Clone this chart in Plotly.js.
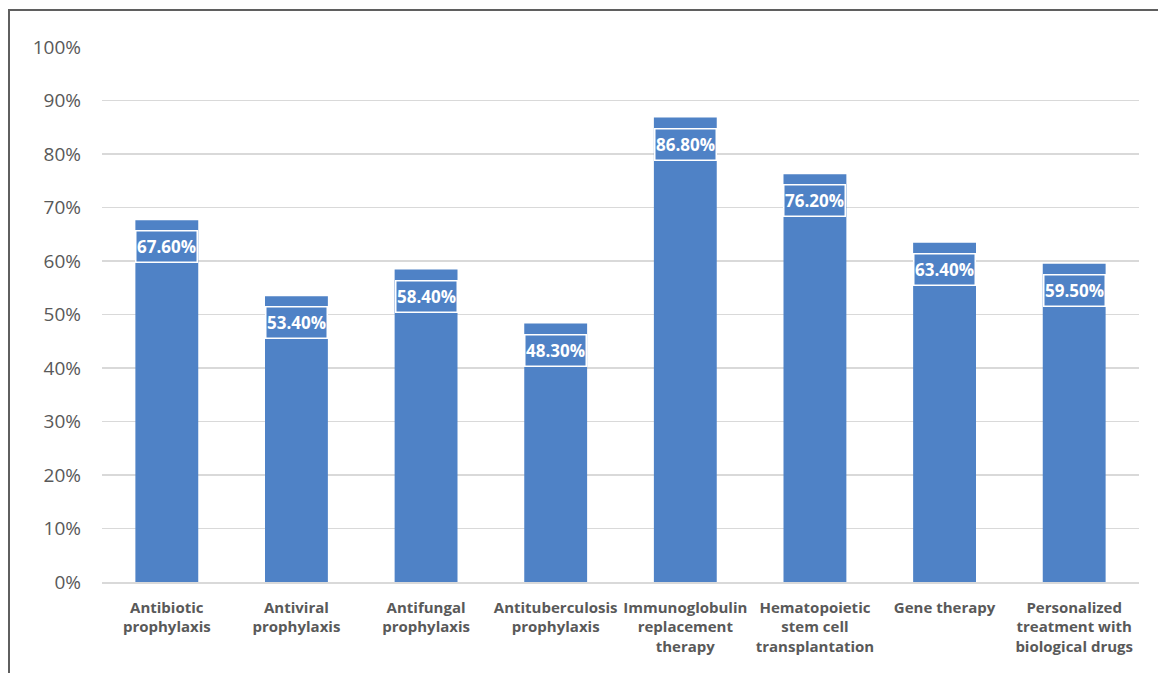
<!DOCTYPE html>
<html><head><meta charset="utf-8">
<script src="https://cdn.plot.ly/plotly-3.0.1.min.js"></script>
<style>
html,body{margin:0;padding:0;background:#fff;}
#wrap{position:relative;width:1158px;height:673px;}
#chart{width:1158px;height:673px;}
#frame{position:absolute;left:8px;top:9px;width:1150px;height:664px;border-left:2px solid #5f5f5f;border-top:2px solid #5f5f5f;pointer-events:none;}
</style></head>
<body>
<div id="wrap"><div id="chart"></div><div id="frame"></div></div>
<script>
const categories = ["Antibiotic<br>prophylaxis","Antiviral<br>prophylaxis","Antifungal<br>prophylaxis","Antituberculosis<br>prophylaxis","Immunoglobulin<br>replacement<br>therapy","Hematopoietic<br>stem cell<br>transplantation","Gene therapy","Personalized<br>treatment with<br>biological drugs"];
const values = [0.676,0.534,0.584,0.483,0.868,0.762,0.634,0.595];
const labels = ["67.60%","53.40%","58.40%","48.30%","86.80%","76.20%","63.40%","59.50%"];
const barColor = "#4f82c6";

const annotations = categories.map((c,i)=>({
  x:c, y:values[i], xref:'x', yref:'y', yanchor:'top', yshift:-10,
  text:'<b>'+labels[i]+'</b>', showarrow:false,
  font:{family:'Open Sans, Lato, sans-serif', size:17, color:'#ffffff'},
  bgcolor:barColor, bordercolor:'#ffffff', borderwidth:1.5, borderpad:0, width:60, height:30
}));

Plotly.newPlot('chart',[{
  type:'bar', x:categories, y:values, marker:{color:barColor}, hoverinfo:'none'
}],{
  width:1158, height:673,
  margin:{l:102,r:19,t:47,b:91},
  bargap:0.515,
  paper_bgcolor:'#ffffff', plot_bgcolor:'#ffffff',
  showlegend:false,
  xaxis:{tickfont:{family:'Open Sans, Lato, sans-serif',size:15,color:'#595959',weight:'bold'},
    showline:true, linecolor:'#d9d9d9', linewidth:1.5, ticks:'', tickangle:0, ticklabelstandoff:11},
  yaxis:{range:[0,1], dtick:0.1, tickformat:'.0%', showgrid:true, gridcolor:'#d9d9d9', gridwidth:1.5,
    zeroline:false, tickfont:{family:'Open Sans, Lato, sans-serif',size:19,color:'#595959'}, ticklabelstandoff:20},
  annotations:annotations
},{staticPlot:true});
</script>
</body></html>
